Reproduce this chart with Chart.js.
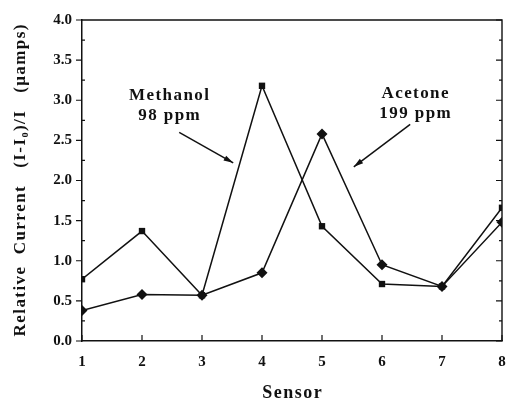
<!DOCTYPE html>
<html><head><meta charset="utf-8">
<script src="https://cdn.jsdelivr.net/npm/chart.js@4/dist/chart.umd.min.js"></script>
<style>html,body{margin:0;padding:0;background:#fff}#w{width:508px;height:404px}</style>
</head><body><div id="w"><canvas id="c"></canvas></div>
<script>
const sensors = [1,2,3,4,5,6,7,8];
const methanol = [0.77,1.37,0.57,3.18,1.43,0.71,0.68,1.66];
const acetone = [0.38,0.58,0.57,0.85,2.58,0.95,0.68,1.48];
const yTicks = [0,0.5,1,1.5,2,2.5,3,3.5,4];
const xLabel = 'Sensor';
const yLabel = 'Relative  Current   (I-I\u2080)/I   (\u03bcamps)';
const notes = [
  {lines:['Methanol','98 ppm'], x:2.45, y:3.0, arrow:[2.62,2.6,3.52,2.22]},
  {lines:['Acetone','199 ppm'], x:6.55, y:3.03, arrow:[6.47,2.7,5.53,2.17]}
];
const INK = '#111';
const SERIF = '"Liberation Serif","DejaVu Serif",serif';
const HS = String.fromCharCode(8202);
const spaced = t => t.split('').join(HS);

const frame = {
  id:'frame',
  afterDraw(chart){
    const ctx = chart.ctx, xs = chart.scales.x, ys = chart.scales.y;
    const L = xs.left, R = xs.right, T = ys.top, B = ys.bottom;
    ctx.save();
    ctx.strokeStyle = INK; ctx.lineWidth = 1.4;
    ctx.beginPath();
    ctx.moveTo(L,T); ctx.lineTo(R,T); ctx.lineTo(R,B);
    ctx.stroke();
    ctx.lineWidth = 1.2;
    ctx.beginPath();
    for (let v=0; v<=4.001; v+=0.25){
      const y = ys.getPixelForValue(v);
      const major = Math.abs(v*2-Math.round(v*2))<1e-6;
      ctx.moveTo(L-(major?6:0),y); ctx.lineTo(L+(major?0:3),y);
      ctx.moveTo(R,y); ctx.lineTo(R-(major?6:3),y);
    }
    sensors.forEach(s=>{
      const x = xs.getPixelForValue(s);
      ctx.moveTo(x,B); ctx.lineTo(x,B-6);
    });
    ctx.stroke();
    ctx.fillStyle = INK;
    ctx.font = 'bold 17px '+SERIF;
    ctx.textAlign = 'center'; ctx.textBaseline = 'alphabetic';
    notes.forEach(n=>{
      const x = xs.getPixelForValue(n.x), y = ys.getPixelForValue(n.y);
      n.lines.forEach((t,i)=>ctx.fillText(spaced(t), x, y+i*20));
      const [x1,y1,x2,y2] = n.arrow;
      const ax = xs.getPixelForValue(x1), ay = ys.getPixelForValue(y1);
      const bx = xs.getPixelForValue(x2), by = ys.getPixelForValue(y2);
      ctx.lineWidth = 1.5;
      ctx.beginPath(); ctx.moveTo(ax,ay); ctx.lineTo(bx,by); ctx.stroke();
      const ang = Math.atan2(by-ay,bx-ax), h=10, w=0.28;
      ctx.beginPath();
      ctx.moveTo(bx,by);
      ctx.lineTo(bx-h*Math.cos(ang-w), by-h*Math.sin(ang-w));
      ctx.lineTo(bx-h*Math.cos(ang+w), by-h*Math.sin(ang+w));
      ctx.closePath(); ctx.fill();
    });
    ctx.restore();
  }
};

new Chart(document.getElementById('c'), {
  type:'line',
  data:{
    datasets:[
      {label:'Methanol 98 ppm', data:sensors.map((s,i)=>({x:s,y:methanol[i]})),
       borderColor:INK, backgroundColor:INK, borderWidth:1.5, pointStyle:'rect', pointRadius:4.5, pointBorderWidth:0, tension:0},
      {label:'Acetone 199 ppm', data:sensors.map((s,i)=>({x:s,y:acetone[i]})),
       borderColor:INK, backgroundColor:INK, borderWidth:1.5, pointStyle:'rectRot', pointRadius:5.5, pointBorderWidth:0, tension:0}
    ]
  },
  options:{
    responsive:true, maintainAspectRatio:false, animation:false,
    layout:{padding:{top:20,right:6,left:0,bottom:0}},
    plugins:{legend:{display:false}, tooltip:{enabled:false}},
    scales:{
      x:{type:'linear', min:1, max:8,
        afterBuildTicks(s){ s.ticks = sensors.map(v=>({value:v})); },
        afterFit(s){ s.height = 63; s.paddingLeft = 0; s.paddingRight = 0; },
        grid:{display:false, drawTicks:false},
        border:{display:true, color:INK, width:1.5},
        ticks:{color:INK, padding:12, font:{family:SERIF, size:15, weight:'bold'}},
        title:{display:true, text:spaced(xLabel), color:INK, padding:{top:10,bottom:0}, font:{family:SERIF, size:18, weight:'bold'}}
      },
      y:{min:0, max:4,
        afterBuildTicks(s){ s.ticks = yTicks.map(v=>({value:v})); },
        afterFit(s){ s.width = 82; s.paddingTop = 0; s.paddingBottom = 0; },
        grid:{display:false, drawTicks:false},
        border:{display:true, color:INK, width:1.5},
        ticks:{color:INK, padding:10, font:{family:SERIF, size:15, weight:'bold'}, callback:v=>v.toFixed(1)},
        title:{display:true, text:spaced(yLabel), color:INK, padding:{top:10,bottom:4}, font:{family:SERIF, size:17, weight:'bold'}}
      }
    }
  },
  plugins:[frame]
});
</script></body></html>
